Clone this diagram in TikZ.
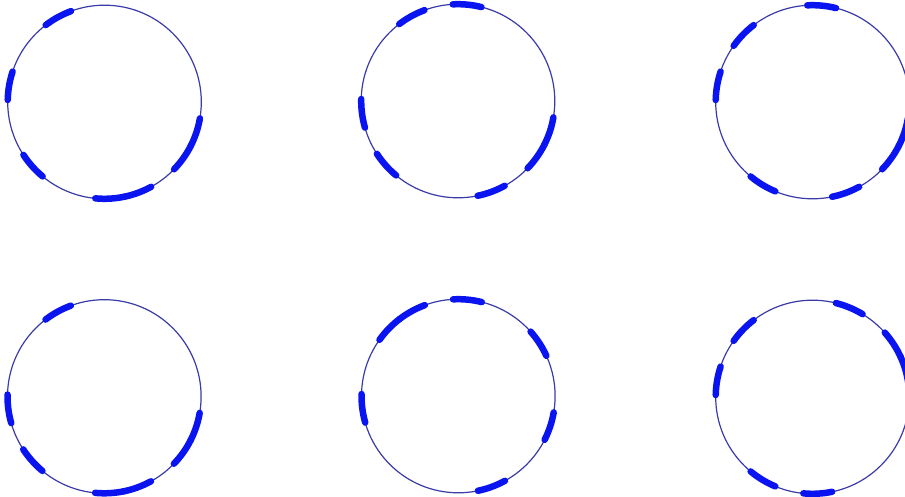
\documentclass[tikz,border=0pt]{standalone}
\usepackage{tikz}
\definecolor{RingLine}{HTML}{3A3AA8}
\definecolor{Band}{HTML}{0A14F0}

\begin{document}
\begin{tikzpicture}[x=1pt,y=1pt]
    \tikzset{
      ring/.style={draw=RingLine,line width=1.2pt},
      band/.style={draw=Band,line width=6.5pt,line cap=round}
    }
    \useasboundingbox (0,0) rectangle (905,497);
    \def\rad{96.8}
    % centre x / centre y / thick segments (21 per ring)
    \foreach \cx/\cy/\segs in {104.5/395/{6,9,12,15,16,18,19},
                               458/396/{4,6,10,12,16,18,19},
                               812.5/395/{4,7,9,13,16,18,19},
                               104.3/100.5/{6,10,12,15,16,18,19},
                               458.3/101/{1,4,6,7,10,16,19},
                               812.5/100/{0,1,3,7,9,13,15}} {
      \draw[ring] (\cx,\cy) circle[radius=\rad];
      \foreach \s in \segs {
        \pgfmathsetmacro{\a}{7.4+\s*360/21}
        \pgfmathsetmacro{\b}{\a+360/21}
        \draw[band] (\cx,\cy) ++(\a:\rad) arc[start angle=\a,end angle=\b,radius=\rad];
      }
    }
  \end{tikzpicture}
\end{document}
